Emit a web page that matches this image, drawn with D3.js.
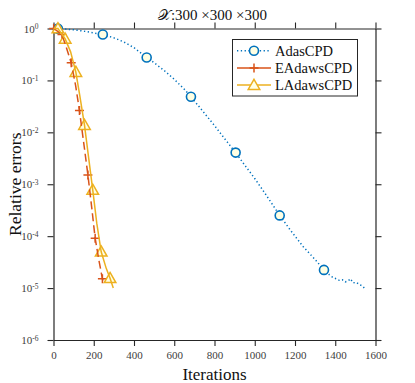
<!DOCTYPE html>
<html>
<head>
<meta charset="utf-8">
<script src="https://cdn.jsdelivr.net/npm/d3@7"></script>
<style>
  body { margin: 0; background: #fff; }
  svg text { font-family: "Liberation Serif", "Times New Roman", serif; }
</style>
</head>
<body>
<svg id="chart" width="415" height="383"></svg>
<script>
// AdasCPD (blue, dotted, circles)
var adasIter = [1, 22, 60, 100, 150, 200, 245, 300, 350, 400, 463, 500, 550, 600, 650, 683,
    750, 800, 850, 905, 950, 1000, 1050, 1100, 1124, 1180, 1240, 1300, 1344, 1370, 1390,
    1405, 1420, 1435, 1450, 1465, 1475, 1490, 1505, 1520, 1535, 1545];
var adasErr = [1, 0.993, 0.973, 0.944, 0.891, 0.822, 0.767, 0.661, 0.55, 0.427, 0.277, 0.219,
    0.155, 0.105, 0.0676, 0.0484, 0.0234, 0.0135, 0.00759, 0.00407, 0.00234, 0.00129,
    0.000676, 0.000347, 0.000251, 0.000126, 6.31e-5, 3.55e-5, 2.24e-5, 1.82e-5, 1.58e-5,
    1.51e-5, 1.41e-5, 1.45e-5, 1.32e-5, 1.38e-5, 1.51e-5, 1.26e-5, 1.29e-5, 1.17e-5,
    1.1e-5, 1.0e-5];
var adasMarks = [1, 6, 10, 15, 19, 24, 28];

// EAdawsCPD (orange, dashed, plus)
var eaIter = [1, 42, 65, 88, 110, 129, 150, 171, 190, 207, 225, 243, 252];
var eaErr = [1, 0.767, 0.417, 0.219, 0.0794, 0.0263, 0.00631, 0.00151, 0.000355,
    9.12e-5, 3.55e-5, 1.51e-5, 1.2e-5];
var eaMarks = [0, 1, 3, 5, 7, 9, 11];

// LAdawsCPD (yellow, solid, triangles)
var laIter = [1, 22, 58, 85, 111, 130, 154, 175, 195, 215, 237, 262, 281, 297];
var laErr = [1, 1, 0.631, 0.355, 0.145, 0.0525, 0.0138, 0.00316, 0.000776, 0.000178,
    5.01e-5, 2.4e-5, 1.55e-5, 1.0e-5];
var laMarks = [1, 2, 4, 6, 8, 10, 12];

var seriesNames = ["AdasCPD", "EAdawsCPD", "LAdawsCPD"];
var xTicks = [0, 200, 400, 600, 800, 1000, 1200, 1400, 1600];
var yExps = [0, -1, -2, -3, -4, -5, -6];

var L = 53.5, R = 375.5, T = 28.5, B = 340;
var AXC = "#262626";
var SERIF = "'Liberation Serif', 'Times New Roman', serif";
var BLUE = "#0072BD", ORANGE = "#D95319", YELLOW = "#EDB120", MFILL = "#FFFFE3";
var DOTS = "1.3,2.5";

var svg = d3.select("#chart");

var x = d3.scaleLinear().domain([0, 1600]).range([L, R]);
var y = d3.scaleLog().domain([1e-6, 1]).range([B, T]);

function zip(a, b) {
    return a.map(function(v, i) { return [v, b[i]]; });
}

// axes
var gx = svg.append("g").attr("transform", "translate(0," + B + ")")
    .call(d3.axisBottom(x).tickValues(xTicks).tickSize(6).tickSizeOuter(0)
        .tickPadding(5).tickFormat(d3.format("d")));
var gxTop = svg.append("g").attr("transform", "translate(0," + T + ")")
    .call(d3.axisTop(x).tickValues(xTicks).tickSize(6).tickSizeOuter(0).tickFormat(""));
var yVals = yExps.map(function(e) { return Math.pow(10, e); });
var gy = svg.append("g").attr("transform", "translate(" + L + ",0)")
    .call(d3.axisLeft(y).tickValues(yVals).tickSize(6).tickSizeOuter(0).tickPadding(9));
var gyR = svg.append("g").attr("transform", "translate(" + R + ",0)")
    .call(d3.axisRight(y).tickValues(yVals).tickSize(6).tickSizeOuter(0).tickFormat(""));

[gx, gxTop, gy, gyR].forEach(function(g) {
    g.attr("font-family", SERIF).attr("font-size", 11);
    g.selectAll("path.domain").attr("stroke", AXC).attr("stroke-width", 1.2);
    g.selectAll(".tick line").attr("stroke", AXC).attr("stroke-width", 1.1);
});
gx.selectAll(".tick text").attr("fill", "#404040").attr("font-family", SERIF);

// 10^n labels
gy.selectAll(".tick text").each(function(d) {
    var e = Math.round(Math.log10(d));
    var t = d3.select(this).text(null).attr("fill", "#404040").attr("font-family", SERIF);
    t.append("tspan").text("10");
    t.append("tspan").attr("dy", "-0.45em").attr("font-size", 7.5)
        .text(e === 0 ? "0" : "-" + (-e));
});

// series
var line = d3.line().x(function(d) { return x(d[0]); }).y(function(d) { return y(d[1]); });

function drawSeries(iters, errs, color, dash) {
    svg.append("path").datum(zip(iters, errs))
        .attr("d", line).attr("fill", "none")
        .attr("stroke", color).attr("stroke-width", 1.5)
        .attr("stroke-dasharray", dash);
}

function circleMark(g, cx, cy) {
    g.append("circle").attr("cx", cx).attr("cy", cy).attr("r", 4.5)
        .attr("fill", MFILL).attr("stroke", BLUE).attr("stroke-width", 1.6);
}
function plusMark(g, cx, cy) {
    g.append("path").attr("d", "M" + (cx - 4.5) + "," + cy + "H" + (cx + 4.5) +
            "M" + cx + "," + (cy - 4.5) + "V" + (cy + 4.5))
        .attr("stroke", ORANGE).attr("stroke-width", 1.5).attr("fill", "none");
}
function triMark(g, cx, cy) {
    var s = 5.8;
    g.append("path").attr("d", "M" + cx + "," + (cy - s) + "L" + (cx + s) + "," + (cy + s * 0.75) +
            "L" + (cx - s) + "," + (cy + s * 0.75) + "Z")
        .attr("fill", MFILL).attr("stroke", YELLOW).attr("stroke-width", 1.5);
}

drawSeries(adasIter, adasErr, BLUE, DOTS);
var gm = svg.append("g");
adasMarks.forEach(function(i) { circleMark(gm, x(adasIter[i]), y(adasErr[i])); });

drawSeries(eaIter, eaErr, ORANGE, "8,4");
eaMarks.forEach(function(i) { plusMark(gm, x(eaIter[i]), y(eaErr[i])); });

drawSeries(laIter, laErr, YELLOW, null);
laMarks.forEach(function(i) { triMark(gm, x(laIter[i]), y(laErr[i])); });

// legend
var lg = svg.append("g");
lg.append("rect").attr("x", 232.5).attr("y", 39.5).attr("width", 125).attr("height", 56.5)
    .attr("fill", "#fff").attr("stroke", AXC).attr("stroke-width", 1);
var legColors = [BLUE, ORANGE, YELLOW];
var legDash = [DOTS, null, null];
seriesNames.forEach(function(name, i) {
    var ly = 50.7 + i * 17.2;
    lg.append("line").attr("x1", 237).attr("x2", 271).attr("y1", ly).attr("y2", ly)
        .attr("stroke", legColors[i]).attr("stroke-width", 1.5)
        .attr("stroke-dasharray", legDash[i]);
    if (i === 0) circleMark(lg, 254, ly);
    if (i === 1) plusMark(lg, 254, ly);
    if (i === 2) triMark(lg, 254, ly);
    lg.append("text").attr("x", 275).attr("y", ly + 5)
        .style("font-size", "14.5px").attr("fill", "#111").text(name);
});

// titles
svg.append("text").attr("x", 212.5).attr("y", 20).attr("text-anchor", "middle")
    .style("font-size", "15px").attr("fill", "#111").text("\u{1D4B3}:300 \u00D7300 \u00D7300");
svg.append("text").attr("x", 214.5).attr("y", 380).attr("text-anchor", "middle")
    .style("font-size", "17px").attr("fill", "#111").text("Iterations");
svg.append("text").attr("transform", "translate(21," + ((T + B) / 2) + ") rotate(-90)")
    .attr("text-anchor", "middle").style("font-size", "17.5px").attr("fill", "#111")
    .text("Relative errors");
</script>
</body>
</html>
